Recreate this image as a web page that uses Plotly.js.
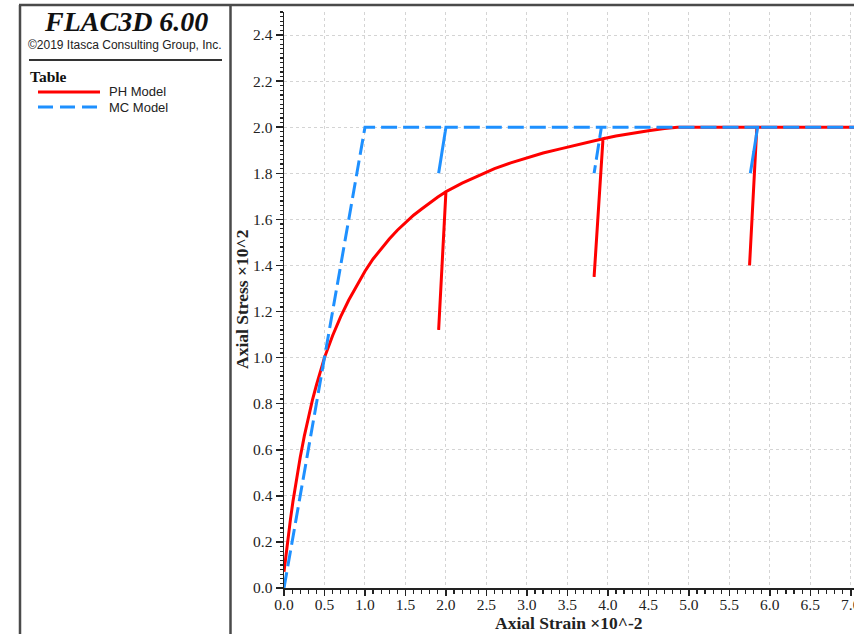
<!DOCTYPE html>
<html>
<head>
<meta charset="utf-8">
<script src="https://cdn.plot.ly/plotly-3.0.1.min.js"></script>
<style>
  html, body { margin: 0; padding: 0; background: #fff; }
  #chart { width: 854px; height: 634px; }
</style>
</head>
<body>
<div id="chart"></div>
<script>
// ---- Data ----
const phStrain = [0, 0.02, 0.05, 0.08, 0.11, 0.15, 0.2, 0.25, 0.3, 0.35, 0.4, 0.45, 0.5, 0.6, 0.7, 0.8, 0.9, 1.0,
                  1.1, 1.2, 1.3, 1.4, 1.5, 1.6, 1.7, 1.8, 1.9, 2.0,
                  1.91, 2.0,
                  2.2, 2.4, 2.6, 2.8, 3.0, 3.2, 3.4, 3.6, 3.8, 3.94,
                  3.83, 3.94,
                  4.1, 4.3, 4.5, 4.7, 4.86, 5.3, 5.84,
                  5.75, 5.84,
                  6.4, 7.1];
const phStress = [0.07, 0.132, 0.219, 0.299, 0.374, 0.464, 0.566, 0.658, 0.74, 0.814, 0.88, 0.943, 1.0, 1.095, 1.178, 1.25, 1.315, 1.375,
                  1.428, 1.474, 1.515, 1.553, 1.587, 1.618, 1.645, 1.673, 1.697, 1.72,
                  1.12, 1.72,
                  1.757, 1.79, 1.82, 1.845, 1.868, 1.888, 1.905, 1.921, 1.937, 1.95,
                  1.35, 1.95,
                  1.962, 1.974, 1.985, 1.994, 2.0, 2.0, 2.0,
                  1.40, 2.0,
                  2.0, 2.0];

const mcStrain = [0, 1.0, 2.0, 1.91, 2.0, 3.92, 3.83, 3.92, 5.85, 5.76, 5.85, 7.1];
const mcStress = [0, 2.0, 2.0, 1.80, 2.0, 2.0, 1.80, 2.0, 2.0, 1.80, 2.0, 2.0];

const seriesNames = ['PH Model', 'MC Model'];
const xTitle = 'Axial Strain \u00d710^-2';
const yTitle = 'Axial Stress \u00d710^2';
const headerTitle = 'FLAC3D 6.00';
const headerSub = '\u00a92019 Itasca Consulting Group, Inc.';
const legendTitle = 'Table';

// ---- Layout geometry ----
const W = 854, H = 634;
const M = { l: 284, r: 0, t: 12, b: 46 };
const PW = W - M.l - M.r, PH = H - M.t - M.b;
const px = x => (x - M.l) / PW;          // pixel -> paper x
const py = y => (H - M.b - y) / PH;      // pixel -> paper y

const red = '#ff0000', blue = '#1e90ff', border = '#4a4a4a';

const traces = [
  { x: phStrain, y: phStress, name: seriesNames[0], mode: 'lines',
    line: { color: red, width: 3 }, showlegend: false },
  { x: mcStrain, y: mcStress, name: seriesNames[1], mode: 'lines',
    line: { color: blue, width: 3, dash: '16px,6px' }, showlegend: false }
];

const serif = 'Liberation Serif, Times New Roman, serif';
const sans = 'Liberation Sans, Arial, sans-serif';
const tickFont = { family: serif, size: 15.5, color: '#222' };
const titleFont = { family: serif, size: 17.5, color: '#222' };

const shapes = [
  // frame
  { type: 'line', xref: 'paper', yref: 'paper', x0: px(20), x1: px(20), y0: py(5), y1: py(640), line: { color: border, width: 2.5 } },
  { type: 'line', xref: 'paper', yref: 'paper', x0: px(19), x1: px(860), y0: py(5), y1: py(5), line: { color: border, width: 2.5 } },
  { type: 'line', xref: 'paper', yref: 'paper', x0: px(230.5), x1: px(230.5), y0: py(5), y1: py(640), line: { color: border, width: 2.5 } },
  // header separator
  { type: 'line', xref: 'paper', yref: 'paper', x0: px(29), x1: px(222), y0: py(60), y1: py(60), line: { color: '#333', width: 2 } },
  // legend samples
  { type: 'line', xref: 'paper', yref: 'paper', x0: px(38), x1: px(100), y0: py(92), y1: py(92), line: { color: red, width: 3 } },
  { type: 'line', xref: 'paper', yref: 'paper', x0: px(38), x1: px(100), y0: py(107), y1: py(107), line: { color: blue, width: 3, dash: '15px,7px' } }
];

const annotations = [
  { text: '<b><i>' + headerTitle + '</i></b>', xref: 'paper', yref: 'paper', x: px(126), y: py(21.5),
    xanchor: 'center', yanchor: 'middle', showarrow: false,
    font: { family: serif, size: 28, color: '#111' } },
  { text: headerSub, xref: 'paper', yref: 'paper', x: px(124.5), y: py(45),
    xanchor: 'center', yanchor: 'middle', showarrow: false,
    font: { family: sans, size: 12, color: '#222' } },
  { text: '<b>' + legendTitle + '</b>', xref: 'paper', yref: 'paper', x: px(28), y: py(76),
    xanchor: 'left', yanchor: 'middle', showarrow: false,
    font: { family: serif, size: 15.5, color: '#111' } },
  { text: seriesNames[0], xref: 'paper', yref: 'paper', x: px(107), y: py(92),
    xanchor: 'left', yanchor: 'middle', showarrow: false,
    font: { family: sans, size: 13, color: '#222' } },
  { text: seriesNames[1], xref: 'paper', yref: 'paper', x: px(107), y: py(107),
    xanchor: 'left', yanchor: 'middle', showarrow: false,
    font: { family: sans, size: 13, color: '#222' } },
  // axis titles
  { text: '<b>' + xTitle + '</b>', xref: 'paper', yref: 'paper', x: 0.5, y: py(623),
    xanchor: 'center', yanchor: 'middle', showarrow: false, font: titleFont },
  { text: '<b>' + yTitle + '</b>', xref: 'paper', yref: 'paper', x: px(242), y: 0.5,
    xanchor: 'center', yanchor: 'middle', textangle: -90, showarrow: false, font: titleFont }
];

const layout = {
  width: W, height: H,
  margin: M,
  paper_bgcolor: '#fff', plot_bgcolor: '#fff',
  showlegend: false,
  xaxis: {
    range: [0, 7.04], dtick: 0.5, tick0: 0, tickformat: '.1f',
    showline: true, linecolor: '#222', linewidth: 1.5, zeroline: false,
    ticks: 'outside', ticklen: 6, tickwidth: 1.5, tickcolor: '#222',
    ticklabeloverflow: 'allow', ticklabelstandoff: -4,
    showgrid: true, gridcolor: '#d4d4d4', griddash: 'dot', gridwidth: 1,
    minor: { dtick: 0.1, ticks: 'outside', ticklen: 4, tickwidth: 1.2, tickcolor: '#222', showgrid: false },
    tickfont: tickFont
  },
  yaxis: {
    range: [0, 2.5], dtick: 0.2, tick0: 0, tickformat: '.1f',
    showline: true, linecolor: '#222', linewidth: 1.5, zeroline: false,
    ticks: 'outside', ticklen: 7, tickwidth: 1.5, tickcolor: '#222',
    showgrid: true, gridcolor: '#d4d4d4', griddash: 'dot', gridwidth: 1,
    minor: { dtick: 0.02, ticks: 'outside', ticklen: 3, tickwidth: 1.2, tickcolor: '#222', showgrid: false },
    tickfont: tickFont
  },
  shapes: shapes,
  annotations: annotations
};

Plotly.newPlot('chart', traces, layout, { displayModeBar: false, staticPlot: true });
</script>
</body>
</html>
